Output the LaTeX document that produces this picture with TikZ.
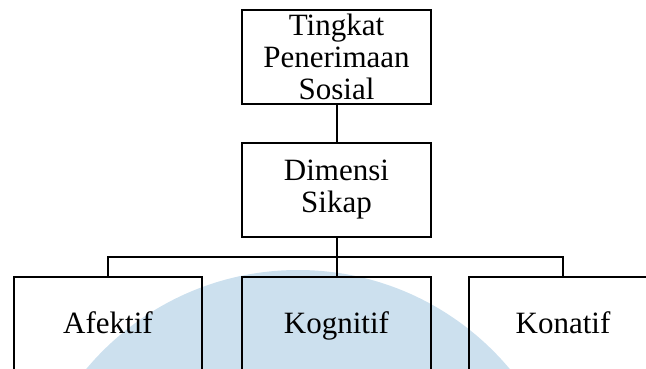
\documentclass[tikz,border=0pt]{standalone}
\usepackage{fontspec}
\setmainfont{Liberation Serif}
\definecolor{wm}{RGB}{204,224,238}
\begin{document}
\begin{tikzpicture}[x=1pt,y=-1pt,
  box/.style={draw=black,line width=2pt,minimum width=189pt,minimum height=94pt,inner sep=0pt,align=center,
    font=\fontsize{31}{32}\selectfont},
  leaf/.style={box,text height=25pt,text depth=7pt},
  link/.style={draw=black,line width=2pt}]
\useasboundingbox (0,0) rectangle (646,368);
\clip (0,0) rectangle (646,368);
\fill[wm] (298,546) circle (276pt);
\node[box] (top) at (336.5,57) {Tingkat\\Penerimaan\\Sosial};
\node[box] (dim) at (336.5,190) {Dimensi\\Sikap};
\node[leaf,minimum width=188pt] (afek) at (108,324) {Afektif};
\node[leaf] (kog) at (336.5,324) {Kognitif};
\node[leaf,minimum width=188pt] (kon) at (563,324) {Konatif};
\coordinate (j) at (336.5,257);
\draw[link] (top) -- (dim);
\draw[link] (dim) -- (kog);
\draw[link] (j) -| (afek.north);
\draw[link] (j) -| (kon.north);
\end{tikzpicture}
\end{document}
